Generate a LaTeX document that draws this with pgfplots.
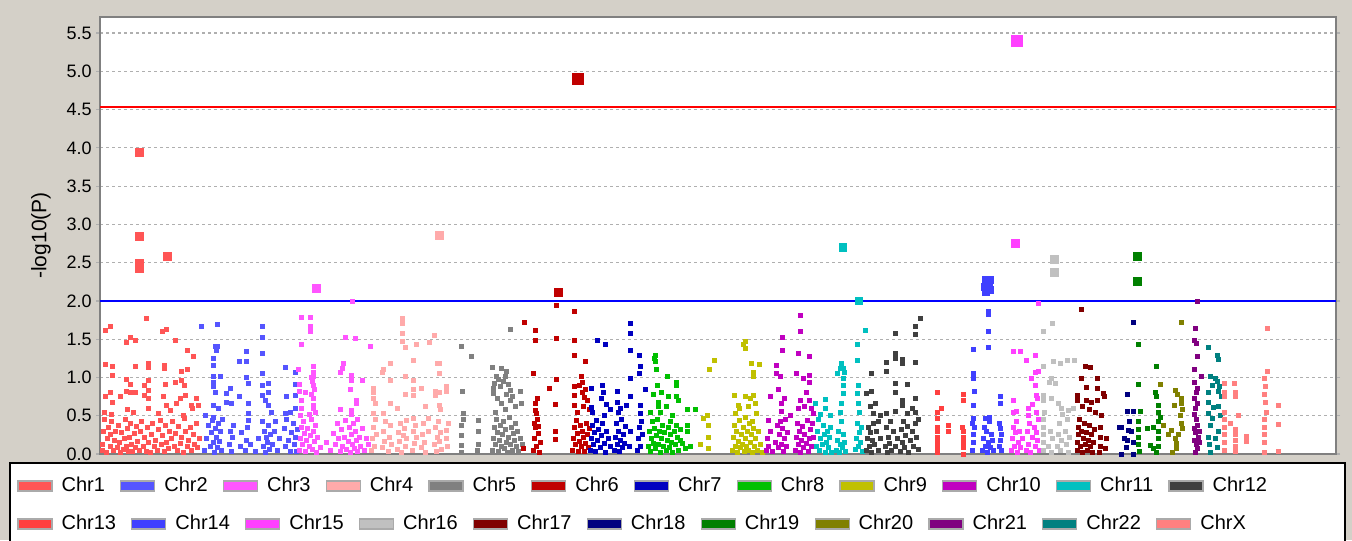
\documentclass[border=0pt]{standalone}
\usepackage{fontspec}
\setmainfont{Liberation Sans}
\usepackage{pgfplots}
\pgfplotsset{compat=1.18}

\definecolor{winbg}{RGB}{212,208,200}
\definecolor{axisgray}{RGB}{128,128,128}
\definecolor{gridgray}{RGB}{175,175,175}
\definecolor{leggray}{RGB}{170,170,170}
\definecolor{c1}{RGB}{255,85,85}
\definecolor{c2}{RGB}{85,85,255}
\definecolor{c3}{RGB}{255,85,255}
\definecolor{c4}{RGB}{255,170,170}
\definecolor{c5}{RGB}{128,128,128}
\definecolor{c6}{RGB}{192,0,0}
\definecolor{c7}{RGB}{0,0,192}
\definecolor{c8}{RGB}{0,192,0}
\definecolor{c9}{RGB}{192,192,0}
\definecolor{c10}{RGB}{192,0,192}
\definecolor{c11}{RGB}{0,192,192}
\definecolor{c12}{RGB}{64,64,64}
\definecolor{c13}{RGB}{255,64,64}
\definecolor{c14}{RGB}{64,64,255}
\definecolor{c15}{RGB}{255,64,255}
\definecolor{c16}{RGB}{192,192,192}
\definecolor{c17}{RGB}{128,0,0}
\definecolor{c18}{RGB}{0,0,128}
\definecolor{c19}{RGB}{0,128,0}
\definecolor{c20}{RGB}{128,128,0}
\definecolor{c21}{RGB}{128,0,128}
\definecolor{c22}{RGB}{0,128,128}
\definecolor{cX}{RGB}{255,128,128}

\tikzset{
  mk/.style={only marks, mark=square*, mark size=1pt},
  big/.style={only marks, mark=square*, mark size=#1},
}
\pgfplotsset{
  chrlegend/.style={
    legend columns=-1,
    legend image code/.code={\filldraw[##1, draw=leggray, line width=0.6pt] (0pt,-2.5pt) rectangle (17pt,2.5pt);},
    legend style={draw=none, fill=none, at={(axis description cs:0,0)}, anchor=west,
      xshift=-41.5pt, yshift=#1, inner sep=0pt, font=\fontsize{10}{12}\selectfont,
      nodes={inner xsep=0pt, inner ysep=1pt},
      /tikz/every odd column/.append style={column sep=4.5pt},
      /tikz/every even column/.append style={column sep=7.6pt}},
  },
}

\begin{document}
\begin{tikzpicture}
\path[use as bounding box, fill=winbg] (-50pt,-43pt) rectangle (626pt,227pt);
\filldraw[fill=white, draw=black, line width=1pt] (-45pt,-4.5pt) rectangle (622.5pt,-60pt);

\begin{axis}[
  at={(0pt,0pt)}, anchor=south west,
  scale only axis, width=618pt, height=218.5pt,
  xmin=100, xmax=1336, ymin=0, ymax=5.71,
  axis background/.style={fill=white},
  axis line style={draw=axisgray, line width=1pt},
  xtick=\empty,
  ytick={0,0.5,...,5.5},
  ymajorgrids,
  grid style={draw=gridgray, line width=0.6pt, dash pattern=on 1.5pt off 1.5pt},
  tick align=outside, major tick length=2pt,
  tick style={draw=gridgray, line width=0.6pt},
  yticklabel style={font=\fontsize{9}{10}\selectfont, inner xsep=0pt, xshift=-2pt,
    /pgf/number format/.cd, fixed, fixed zerofill, precision=1, assume math mode=true},
  ylabel={-log10(P)},
  every axis y label/.style={at={(axis description cs:0,0.5)}, xshift=-29.5pt,
    rotate=90, anchor=center, font=\fontsize{10.5}{12}\selectfont},
  chrlegend=-16pt,
]
% significance thresholds
\addplot[red, line width=1pt, forget plot] coordinates {(100,4.54) (1336,4.54)};
\addplot[blue, line width=1pt, forget plot] coordinates {(100,2.0) (1336,2.0)};

% Chr1
\addplot[mk, color=c1] coordinates {
(146,1.77)(105,1.61)(110,1.67)(130,1.53)(126,1.46)(135,1.48)(162,1.60)(166,1.63)(175,1.48)(187,1.36)(193,1.27)
(105,1.17)(112,1.15)(135,1.15)(148,1.19)(148,1.13)(164,1.16)(164,1.12)(187,1.10)(181,1.08)
(112,1.03)(126,0.98)(130,0.91)(144,0.89)(148,0.96)(165,0.91)(175,0.93)(181,0.96)(184,0.90)
(105,0.75)(110,0.80)(112,0.68)(120,0.75)(126,0.82)(130,0.81)(135,0.80)(148,0.83)(148,0.72)(144,0.77)(163,0.75)
(166,0.64)(176,0.66)(180,0.72)(185,0.77)(196,0.72)(191,0.64)(198,0.64)
(104,0.55)(111,0.52)(127,0.58)(133,0.55)(148,0.60)(158,0.53)(170,0.57)(183,0.50)(192,0.59)
(102,0.05)(102,0.12)(103,0.30)(104,0.45)(106,0.02)(107,0.20)(108,0.35)(110,0.10)(110,0.25)(111,0.42)(113,0.05)
(114,0.18)(115,0.30)(117,0.08)(118,0.38)(119,0.15)(120,0.02)(121,0.28)(123,0.06)(124,0.20)(125,0.45)(126,0.10)
(127,0.33)(128,0.04)(129,0.22)(130,0.40)(131,0.12)(132,0.03)(134,0.27)(135,0.08)(136,0.36)(137,0.16)(139,0.05)
(140,0.30)(141,0.43)(143,0.10)(144,0.22)(146,0.04)(147,0.35)(148,0.15)(150,0.02)(151,0.26)(152,0.40)(154,0.10)
(155,0.18)(157,0.05)(158,0.32)(160,0.44)(161,0.12)(162,0.24)(164,0.03)(165,0.38)(166,0.15)(168,0.07)(169,0.30)
(171,0.20)(172,0.42)(174,0.10)(175,0.27)(177,0.05)(178,0.36)(180,0.14)(181,0.22)(183,0.02)(184,0.46)(185,0.30)
(187,0.10)(188,0.18)(190,0.35)(191,0.05)(193,0.25)(194,0.12)(196,0.40)(197,0.08)(199,0.20)
};
\addlegendentry{Chr1}
% Chr2
\addplot[mk, color=c2] coordinates {
(201,1.67)(217,1.69)(262,1.67)(262,1.53)(262,1.32)(215,1.40)(217,1.40)(216,1.36)(213,1.25)(213,1.16)(246,1.34)
(239,1.21)(246,1.21)(213,1.01)(220,1.01)(213,0.94)(213,0.88)(215,0.80)(230,0.86)(226,0.79)(246,1.00)(248,0.92)
(239,0.75)(262,1.05)(262,0.90)(262,0.77)(265,0.70)(226,0.68)(231,0.66)(213,0.64)(218,0.59)(248,0.66)(248,0.53)
(205,0.51)(213,0.48)(268,0.92)(268,0.81)(268,0.64)(285,1.13)(295,1.07)(295,0.91)(286,0.75)(295,0.77)(271,0.54)
(285,0.53)(290,0.54)(295,0.59)(275,0.42)
(204,0.05)(206,0.20)(208,0.38)(210,0.10)(211,0.28)(212,0.44)(213,0.15)(214,0.02)(215,0.33)(216,0.22)(217,0.08)
(218,0.40)(219,0.17)(220,0.30)(221,0.05)(222,0.45)(229,0.12)(230,0.30)(231,0.04)(232,0.22)(233,0.38)(240,0.10)
(241,0.28)(245,0.05)(246,0.18)(247,0.35)(248,0.44)(250,0.12)(255,0.03)(258,0.20)(262,0.42)(263,0.10)(264,0.30)
(265,0.02)(266,0.22)(267,0.15)(268,0.37)(269,0.06)(270,0.26)(272,0.12)(274,0.30)(277,0.05)(279,0.20)(284,0.34)
(285,0.10)(286,0.45)(288,0.18)(290,0.04)(291,0.28)(293,0.40)(294,0.12)(295,0.22)(296,0.03)(297,0.32)
};
\addlegendentry{Chr2}
% Chr3
\addplot[mk, color=c3] coordinates {
(301,1.79)(310,1.79)(310,1.67)(310,1.60)(301,1.43)(298,1.10)(313,1.14)(313,1.07)(313,1.01)(299,0.91)(299,0.82)
(305,0.80)(313,0.90)(313,0.72)(313,0.64)(315,0.55)(301,0.70)(301,0.60)(300,0.50)(345,1.53)(355,1.51)(352,1.99)
(370,1.41)(343,1.18)(340,1.07)(342,1.12)(351,1.03)(362,0.96)(351,0.96)(350,0.85)(356,0.70)(356,0.66)(340,0.58)
(351,0.57)(351,0.52)(357,0.45)(311,1.00)(312,0.95)(314,0.85)(311,0.78)(313,0.60)(309,0.52)
(299,0.05)(300,0.20)(301,0.35)(302,0.12)(303,0.42)(304,0.27)(305,0.04)(306,0.18)(307,0.33)(309,0.10)(310,0.24)
(311,0.45)(312,0.06)(313,0.30)(314,0.16)(315,0.38)(316,0.02)(317,0.22)(320,0.08)(326,0.15)(330,0.05)(333,0.27)
(335,0.12)(337,0.40)(338,0.20)(340,0.03)(341,0.32)(342,0.10)(344,0.22)(345,0.44)(346,0.06)(348,0.16)(349,0.35)
(350,0.02)(351,0.25)(352,0.12)(353,0.40)(354,0.07)(355,0.30)(356,0.18)(357,0.03)(359,0.22)(360,0.10)(362,0.34)
(364,0.05)(366,0.20)(368,0.12)
};
\addlegendentry{Chr3}
% Chr4
\addplot[mk, color=c4] coordinates {
(402,1.77)(402,1.71)(402,1.58)(405,1.39)(402,1.47)(416,1.43)(429,1.46)(434,1.55)(390,1.19)(383,1.10)(382,1.07)
(413,1.22)(437,1.18)(405,1.01)(413,0.96)(390,0.96)(373,0.86)(373,0.80)(373,0.72)(375,0.66)(390,0.66)(405,0.78)
(413,0.85)(413,0.77)(421,0.86)(435,0.82)(435,0.77)(383,0.53)(373,0.53)(406,0.44)(413,0.46)(428,0.47)(439,1.18)
(439,1.05)(446,0.88)(446,0.82)(439,0.80)(439,0.64)(446,0.31)(440,0.58)(425,0.62)(397,0.60)
(371,0.05)(372,0.20)(373,0.35)(374,0.10)(375,0.45)(376,0.25)(382,0.08)(383,0.30)(384,0.16)(385,0.42)(388,0.03)
(389,0.22)(390,0.38)(391,0.12)(397,0.06)(398,0.28)(399,0.17)(400,0.40)(401,0.02)(403,0.24)(404,0.33)(405,0.10)
(406,0.20)(412,0.05)(413,0.30)(414,0.14)(415,0.38)(416,0.22)(421,0.08)(422,0.25)(423,0.40)(424,0.15)(425,0.02)
(428,0.30)(434,0.12)(435,0.35)(436,0.04)(437,0.22)(438,0.42)(439,0.16)(440,0.28)(441,0.06)(446,0.20)(447,0.10)
(448,0.40)
};
\addlegendentry{Chr4}
% Chr5
\addplot[mk, color=c5] coordinates {
(461,1.41)(471,1.27)(510,1.63)(462,0.82)(492,1.13)(501,1.12)(506,1.08)(496,1.02)(505,1.01)(493,0.86)(493,0.79)
(508,0.91)(510,0.83)(506,0.78)(501,0.66)(510,0.70)(520,0.82)(521,0.66)(463,0.53)(478,0.44)(478,0.29)(478,0.13)
(461,0.37)(461,0.24)(461,0.11)(461,0.02)(494,0.92)(498,0.98)(500,0.88)(503,0.95)(497,0.72)(512,0.75)(515,0.62)
(505,0.58)(495,0.55)
(492,0.05)(493,0.20)(494,0.35)(495,0.12)(496,0.45)(497,0.28)(498,0.04)(499,0.18)(500,0.38)(501,0.10)(502,0.25)
(503,0.42)(504,0.07)(505,0.32)(506,0.15)(507,0.02)(508,0.22)(509,0.48)(510,0.12)(511,0.35)(512,0.05)(513,0.27)
(514,0.18)(515,0.40)(516,0.10)(517,0.30)(518,0.03)(520,0.20)(522,0.12)(463,0.45)(477,0.05)
};
\addlegendentry{Chr5}
% Chr6
\addplot[mk, color=c6] coordinates {
(524,1.72)(535,1.62)(535,1.48)(533,1.05)(523,0.07)(537,0.72)(535,0.66)(535,0.57)(536,0.53)(549,0.86)(556,1.94)
(556,1.51)(556,0.98)(555,0.65)(555,0.29)(555,0.19)(574,1.86)(574,1.48)(574,1.29)(585,1.21)(581,1.02)(582,0.94)
(585,0.85)(582,0.80)(584,0.74)(574,0.88)(574,0.77)(574,0.64)(579,0.90)(583,0.62)(587,0.70)(577,0.55)(589,0.58)
(533,0.05)(534,0.20)(535,0.35)(536,0.10)(537,0.45)(538,0.27)(539,0.02)(540,0.15)(534,0.40)(538,0.36)(572,0.05)
(573,0.20)(574,0.35)(575,0.12)(576,0.44)(577,0.27)(578,0.03)(579,0.17)(580,0.38)(581,0.10)(582,0.30)(583,0.22)
(584,0.04)(585,0.14)(586,0.40)(587,0.25)(588,0.08)(589,0.33)
};
\addlegendentry{Chr6}
% Chr7
\addplot[mk, color=c7] coordinates {
(597,1.48)(605,1.43)(591,0.86)(602,0.90)(603,0.81)(591,0.61)(592,0.55)(630,1.70)(630,1.58)(630,1.36)(639,1.29)
(640,1.14)(639,1.05)(630,0.99)(617,0.82)(617,0.68)(630,0.75)(626,0.64)(645,0.85)(640,0.64)(640,0.53)(618,0.55)
(601,0.72)(606,0.65)(610,0.58)(620,0.60)(604,0.50)
(590,0.05)(591,0.20)(592,0.38)(593,0.12)(594,0.28)(595,0.04)(596,0.44)(597,0.18)(598,0.32)(600,0.08)(601,0.24)
(602,0.40)(604,0.14)(605,0.02)(606,0.30)(608,0.20)(610,0.10)(614,0.05)(615,0.22)(616,0.40)(617,0.12)(618,0.30)
(619,0.03)(620,0.18)(621,0.45)(622,0.08)(623,0.26)(624,0.14)(625,0.36)(629,0.10)(630,0.30)(637,0.05)(638,0.20)
(639,0.35)(640,0.10)(641,0.42)(642,0.25)
};
\addlegendentry{Chr7}
% Chr8
\addplot[mk, color=c8] coordinates {
(655,1.29)(655,1.21)(656,1.10)(667,1.01)(676,0.93)(676,0.90)(657,0.90)(661,0.80)(653,0.78)(676,0.75)(678,0.70)
(658,0.68)(658,0.62)(650,0.54)(660,0.55)(687,0.58)(695,0.58)(670,0.42)(676,0.38)(687,0.37)(687,0.29)(685,0.07)
(680,0.18)(654,1.25)(666,0.62)(672,0.50)(668,0.75)
(648,0.10)(649,0.30)(650,0.04)(651,0.20)(652,0.42)(653,0.14)(654,0.33)(655,0.07)(656,0.24)(657,0.45)(658,0.12)
(659,0.30)(660,0.02)(661,0.20)(662,0.38)(663,0.10)(664,0.28)(666,0.05)(667,0.18)(668,0.35)(669,0.08)(670,0.25)
(671,0.15)(672,0.02)(674,0.30)(675,0.12)(677,0.22)(678,0.05)(680,0.32)(682,0.14)(690,0.10)
};
\addlegendentry{Chr8}
% Chr9
\addplot[mk, color=c9] coordinates {
(714,1.22)(709,1.11)(707,0.51)(703,0.46)(708,0.37)(708,0.22)(700,0.12)(708,0.07)(745,1.47)(745,1.38)(751,1.19)
(759,1.17)(753,1.07)(753,1.01)(734,0.77)(745,0.75)(753,0.77)(750,0.72)(755,0.66)(738,0.64)(739,0.59)(735,0.53)
(745,0.48)(752,0.42)(756,0.53)(743,1.43)(748,0.62)
(732,0.05)(733,0.22)(734,0.38)(735,0.10)(736,0.30)(737,0.02)(738,0.16)(739,0.44)(740,0.08)(741,0.26)(742,0.12)
(743,0.35)(744,0.03)(745,0.20)(746,0.10)(747,0.30)(748,0.05)(749,0.40)(750,0.15)(751,0.25)(752,0.02)(753,0.34)
(754,0.10)(755,0.20)(757,0.05)(758,0.30)(760,0.12)(762,0.02)
};
\addlegendentry{Chr9}
% Chr10
\addplot[mk, color=c10] coordinates {
(776,1.16)(776,1.05)(770,0.75)(768,0.44)(782,1.53)(782,1.36)(800,1.81)(800,1.60)(798,1.32)(809,1.27)(796,1.05)
(803,0.99)(809,1.03)(809,0.93)(806,0.80)(809,0.70)(780,1.02)(781,0.66)(798,0.60)(811,0.59)(813,0.53)(781,0.56)
(784,0.72)(800,0.70)(804,0.62)(790,0.50)(778,0.85)
(766,0.05)(767,0.20)(768,0.10)(770,0.30)(772,0.04)(775,0.15)(777,0.38)(778,0.08)(779,0.25)(780,0.42)(781,0.12)
(782,0.33)(783,0.04)(784,0.20)(785,0.45)(786,0.10)(787,0.28)(795,0.05)(796,0.22)(797,0.40)(798,0.12)(799,0.30)
(800,0.02)(801,0.18)(802,0.36)(803,0.08)(804,0.25)(806,0.14)(807,0.44)(808,0.03)(809,0.20)(810,0.32)(811,0.10)
(812,0.40)(813,0.22)
};
\addlegendentry{Chr10}
% Chr11
\addplot[mk, color=c11] coordinates {
(815,0.66)(825,0.71)(825,0.60)(841,1.18)(843,1.12)(837,1.05)(843,0.99)(843,0.90)(843,0.79)(841,0.66)(840,0.55)
(865,1.62)(857,1.43)(857,1.22)(858,0.90)(857,0.79)(858,0.66)(859,0.55)(840,1.12)(844,1.07)(830,0.50)(820,0.52)
(816,0.10)(817,0.30)(818,0.45)(819,0.05)(820,0.20)(822,0.12)(823,0.38)(824,0.25)(825,0.02)(826,0.15)(827,0.30)
(828,0.08)(829,0.22)(830,0.35)(831,0.02)(836,0.05)(837,0.18)(838,0.30)(839,0.02)(840,0.12)(841,0.42)(842,0.08)
(843,0.25)(844,0.15)(845,0.03)(855,0.06)(856,0.20)(857,0.40)(858,0.10)(859,0.28)(860,0.15)(861,0.35)(862,0.04)
};
\addlegendentry{Chr11}
% Chr12
\addplot[mk, color=c12] coordinates {
(866,0.79)(871,0.82)(871,1.05)(895,1.58)(895,1.32)(895,1.25)(886,1.20)(886,1.08)(902,1.24)(902,1.18)(915,1.67)
(915,1.56)(920,1.77)(915,1.20)(895,0.92)(895,0.81)(907,0.91)(915,0.72)(902,0.70)(902,0.64)(895,0.56)(886,0.53)
(875,0.66)(873,0.53)(878,0.42)(907,0.53)(915,0.55)(912,0.60)(880,0.50)(870,0.62)(918,0.45)
(866,0.05)(867,0.20)(868,0.35)(869,0.10)(870,0.28)(871,0.02)(872,0.18)(873,0.40)(874,0.12)(876,0.30)(878,0.05)
(880,0.20)(885,0.10)(886,0.35)(887,0.02)(888,0.22)(889,0.14)(890,0.42)(891,0.05)(893,0.30)(895,0.10)(897,0.20)
(900,0.04)(901,0.32)(902,0.15)(903,0.42)(904,0.08)(905,0.24)(907,0.36)(908,0.02)(910,0.18)(912,0.30)(913,0.10)
(915,0.40)(916,0.22)(918,0.06)
};
\addlegendentry{Chr12}
% Chr13
\addplot[mk, color=c13, forget plot] coordinates {
(937,0.80)(937,0.54)(948,0.38)(937,0.47)(937,0.35)(937,0.30)(937,0.22)(937,0.15)(937,0.08)(937,0.02)(963,0.78)
(963,0.70)(963,0.29)(963,0.22)(963,0.15)(963,0.08)(963,0.00)(962,0.35)(948,0.30)(941,0.60)
};
% Chr14
\addplot[mk, color=c14, forget plot] coordinates {
(973,1.37)(973,1.05)(973,0.99)(974,0.82)(973,0.64)(973,0.46)(988,1.86)(988,1.82)(988,1.60)(988,1.39)(985,0.46)
(1000,0.75)(1000,0.66)(1000,0.33)(1001,0.25)
(972,0.05)(973,0.15)(973,0.25)(974,0.35)(972,0.40)(982,0.05)(983,0.20)(984,0.35)(985,0.10)(986,0.30)(987,0.02)
(988,0.15)(989,0.42)(990,0.08)(991,0.25)(992,0.18)(993,0.05)(999,0.10)(1000,0.18)(1001,0.05)(999,0.40)(989,0.48)
};
% Chr15
\addplot[mk, color=c15, forget plot] coordinates {
(1013,1.34)(1020,1.34)(1026,1.22)(1035,1.29)(1038,1.97)(1035,1.07)(1038,1.08)(1031,0.99)(1035,0.90)(1036,0.77)
(1037,0.72)(1013,0.70)(1013,0.55)(1016,0.56)(1028,0.59)(1028,0.50)(1036,0.55)(1032,0.65)
(1011,0.05)(1012,0.20)(1013,0.35)(1014,0.10)(1015,0.28)(1016,0.42)(1017,0.02)(1018,0.15)(1019,0.30)(1020,0.08)
(1022,0.20)(1026,0.05)(1027,0.30)(1028,0.12)(1029,0.40)(1030,0.02)(1032,0.22)(1034,0.35)(1035,0.10)(1036,0.28)
(1037,0.18)(1038,0.45)(1039,0.05)
};
% Chr16
\addplot[mk, color=c16, forget plot] coordinates {
(1052,1.71)(1043,1.60)(1043,1.14)(1053,1.21)(1060,1.19)(1067,1.22)(1074,1.22)(1049,0.94)(1051,0.99)(1055,0.92)
(1043,0.77)(1043,0.70)(1051,0.72)(1058,0.66)(1061,0.60)(1068,0.57)(1073,0.60)(1062,0.52)
(1043,0.05)(1043,0.15)(1043,0.25)(1043,0.35)(1043,0.45)(1044,0.55)(1048,0.10)(1050,0.30)(1051,0.02)(1052,0.20)
(1057,0.10)(1058,0.25)(1059,0.40)(1060,0.05)(1061,0.18)(1065,0.30)(1066,0.12)(1067,0.45)(1068,0.02)(1069,0.22)
};
% Chr17
\addplot[mk, color=c17, forget plot] coordinates {
(1081,1.89)(1085,1.15)(1090,1.13)(1081,0.99)(1086,0.87)(1097,0.99)(1097,0.86)(1103,0.79)(1104,0.75)(1077,0.77)
(1077,0.70)(1086,0.70)(1091,0.68)(1097,0.70)(1082,0.62)(1089,0.58)(1095,0.55)(1101,0.50)
(1077,0.05)(1077,0.15)(1078,0.25)(1078,0.35)(1079,0.45)(1080,0.10)(1081,0.30)(1082,0.02)(1083,0.20)(1084,0.40)
(1085,0.12)(1086,0.28)(1087,0.05)(1088,0.18)(1089,0.38)(1090,0.10)(1091,0.25)(1092,0.02)(1093,0.15)(1094,0.32)
(1100,0.10)(1100,0.22)(1100,0.35)(1099,0.02)(1105,0.07)(1106,0.20)
};
% Chr18
\addplot[mk, color=c18, forget plot] coordinates {
(1133,1.72)(1127,0.78)(1127,0.56)(1133,0.56)(1121,0.35)(1128,0.31)(1131,0.29)(1127,0.18)(1133,0.15)(1121,0.00)
(1133,0.00)(1119,0.35)(1124,0.20)(1129,0.42)(1126,0.08)
};
% Chr19
\addplot[mk, color=c19, forget plot] coordinates {
(1138,1.43)(1138,0.91)(1140,0.56)(1138,0.42)(1138,0.32)(1138,0.22)(1138,0.12)(1139,0.03)(1156,1.15)(1155,0.80)
(1156,0.75)(1158,0.64)(1158,0.55)(1158,0.42)(1153,0.35)(1147,0.33)(1158,0.30)(1158,0.20)(1158,0.10)(1150,0.11)
(1153,0.07)(1156,0.02)(1160,0.48)
};
% Chr20
\addplot[mk, color=c20, forget plot] coordinates {
(1181,1.72)(1160,0.91)(1175,0.83)(1177,0.78)(1181,0.73)(1181,0.66)(1182,0.58)(1174,0.64)(1163,0.37)(1171,0.31)
(1175,0.20)(1176,0.14)(1176,0.07)(1181,0.40)(1182,0.33)(1180,0.50)(1172,0.02)(1178,0.25)(1168,0.25)
};
% Chr21
\addplot[mk, color=c21, forget plot] coordinates {
(1197,1.99)(1195,1.64)(1194,1.49)(1196,1.45)(1197,1.27)(1194,1.10)(1194,0.93)(1197,0.86)(1201,1.01)(1196,0.80)
(1194,0.72)(1197,0.66)(1195,0.60)(1194,0.52)(1196,0.45)(1197,0.38)(1194,0.33)(1195,0.28)(1198,0.22)(1194,0.18)
(1196,0.12)(1197,0.07)(1195,0.02)(1199,0.30)(1199,0.15)
};
% Chr22
\addplot[mk, color=c22, forget plot] coordinates {
(1208,1.39)(1217,1.29)(1218,1.23)(1210,1.01)(1215,0.99)(1217,0.95)(1219,0.88)(1218,0.82)(1208,0.81)(1208,0.68)
(1213,0.61)(1218,0.62)(1208,0.53)(1212,0.46)(1210,0.38)(1218,0.30)(1208,0.22)(1215,0.20)(1209,0.12)(1217,0.08)
(1210,0.02)(1220,0.50)(1212,0.90)(1221,0.75)
};
% ChrX
\addplot[mk, color=cX, forget plot] coordinates {
(1224,0.92)(1224,0.81)(1224,0.75)(1234,0.92)(1235,0.81)(1235,0.75)(1224,0.55)(1224,0.45)(1224,0.35)(1224,0.25)
(1224,0.15)(1224,0.05)(1235,0.32)(1235,0.25)(1235,0.18)(1235,0.10)(1235,0.03)(1246,0.23)(1246,0.16)(1267,1.64)
(1267,1.08)(1264,0.99)(1265,0.88)(1264,0.78)(1265,0.68)(1266,0.55)(1264,0.45)(1264,0.35)(1264,0.25)(1264,0.15)
(1264,0.02)(1278,0.63)(1278,0.39)(1278,0.04)(1230,0.40)(1238,0.50)
};

% SNPs above the suggestive line, drawn larger
\addplot[big=2pt, color=c1, forget plot] coordinates {(139,3.94)(139,2.84)(139,2.49)(139,2.43)(167,2.58)};
\addplot[big=2pt, color=c3, forget plot] coordinates {(316,2.16)};
\addplot[big=2pt, color=c4, forget plot] coordinates {(439,2.86)};
\addplot[big=2pt, color=c6, forget plot] coordinates {(558,2.11)};
\addplot[big=2.75pt, color=c6, forget plot] coordinates {(578,4.90)};
\addplot[big=1.8pt, color=c11, forget plot] coordinates {(843,2.70)(859,2.00)};
\addplot[big=1.8pt, color=c14, forget plot] coordinates {(986,2.27)(990,2.28)(985,2.18)(989,2.20)(986,2.12)(990,2.14)};
\addplot[big=2.75pt, color=c15, forget plot] coordinates {(1017,5.40)};
\addplot[big=2pt, color=c15, forget plot] coordinates {(1015,2.75)};
\addplot[big=2pt, color=c16, forget plot] coordinates {(1054,2.54)(1054,2.37)};
\addplot[big=2pt, color=c19, forget plot] coordinates {(1137,2.58)(1137,2.25)};
\end{axis}

% second legend row
\begin{axis}[
  at={(0pt,0pt)}, anchor=south west,
  scale only axis, width=618pt, height=218.5pt,
  hide axis, xmin=0, xmax=1, ymin=0, ymax=1,
  chrlegend=-35pt,
]
\addlegendimage{color=c13}
\addlegendimage{color=c14}
\addlegendimage{color=c15}
\addlegendimage{color=c16}
\addlegendimage{color=c17}
\addlegendimage{color=c18}
\addlegendimage{color=c19}
\addlegendimage{color=c20}
\addlegendimage{color=c21}
\addlegendimage{color=c22}
\addlegendimage{color=cX}
\legend{Chr13,Chr14,Chr15,Chr16,Chr17,Chr18,Chr19,Chr20,Chr21,Chr22,ChrX}
\end{axis}
\end{tikzpicture}
\end{document}
